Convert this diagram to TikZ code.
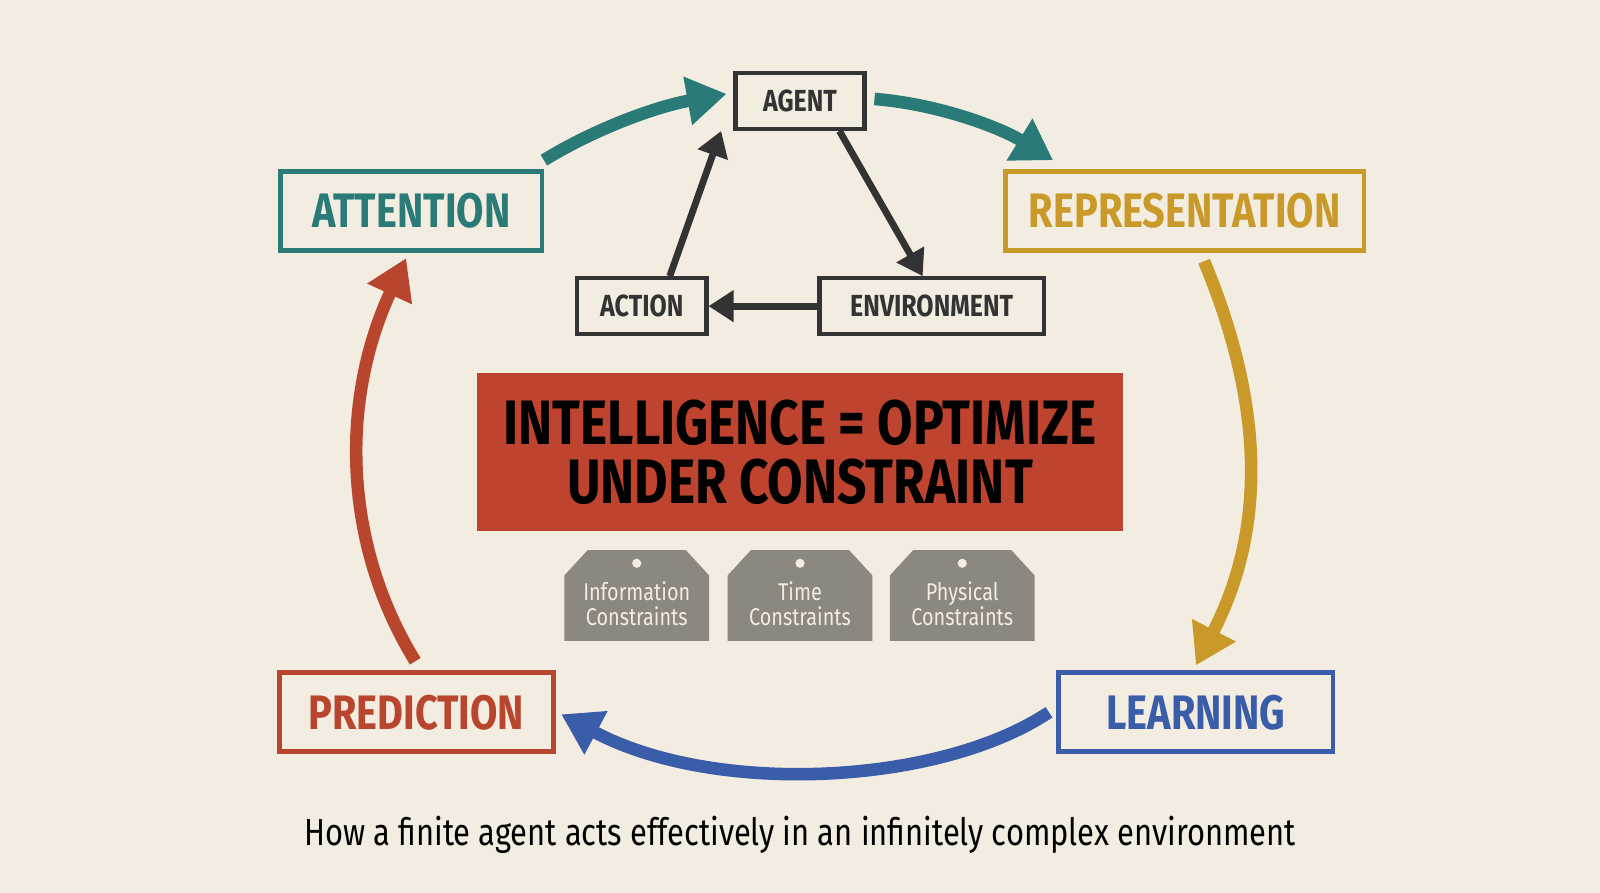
\documentclass[tikz,border=0pt]{standalone}
\usepackage{fontspec}
\setmainfont{Fira Sans}[FakeStretch=0.82]
\usetikzlibrary{arrows.meta}
\definecolor{bg}{HTML}{F3ECE0}
\definecolor{teal}{HTML}{2A7A78}
\definecolor{gold}{HTML}{C99A2A}
\definecolor{blu}{HTML}{3A5DAA}
\definecolor{rd}{HTML}{B8452E}
\definecolor{boxred}{HTML}{BE4430}
\definecolor{tag}{HTML}{8C8880}
\definecolor{dk}{HTML}{333333}
\begin{document}
\begin{tikzpicture}[x=0.02cm,y=-0.02cm,
 big/.style={draw=#1,line width=2.6pt,fill=bg,text=#1,font=\bfseries\fontsize{27}{30}\selectfont,minimum height=44pt,inner xsep=10pt},
 small/.style={draw=dk,line width=2.4pt,fill=bg,text=dk,font=\bfseries\fontsize{17}{20}\selectfont,minimum height=31pt},
 carr/.style={line width=7pt,draw=#1,-{Triangle[length=22pt,width=26pt,fill=#1]}},
 darr/.style={line width=3.8pt,draw=dk,-{Triangle[length=14pt,width=17pt]}},
 tg/.style={text=bg,font=\fontsize{13.5}{14}\selectfont,align=center}]
\fill[bg] (0,0) rectangle (1568,875);
\node[small,minimum width=72pt] (agent) at (784,99) {AGENT};
\node[small,minimum width=72pt] (action) at (629,300) {ACTION};
\node[small,minimum width=125pt] (env) at (913,300) {ENVIRONMENT};
\node[big=teal,minimum width=146pt] (att) at (403,207) {ATTENTION};
\node[big=gold,minimum width=200pt] (rep) at (1161,207) {REPRESENTATION};
\node[big=rd,minimum width=153pt] (pred) at (408,698) {PREDICTION};
\node[big=blu,minimum width=153pt] (learn) at (1172,698) {LEARNING};
\node[fill=boxred,minimum width=360pt,minimum height=88pt,align=center,font=\bfseries\fontsize{35}{33}\selectfont,text=black] (main) at (784,443) {INTELLIGENCE = OPTIMIZE\\UNDER CONSTRAINT};
\foreach \cx/\n/\t in {624/t1/Information\\Constraints,784/t2/Time\\Constraints,943/t3/Physical\\Constraints}{
 \fill[tag] (\cx-71,628) -- (\cx-71,564) -- (\cx-48,539) -- (\cx+48,539) -- (\cx+71,564) -- (\cx+71,628) -- cycle;
 \fill[bg] (\cx,552) circle (4.5);
 \node[tg] (\n) at (\cx,592) {\t};
}
\node[font=\fontsize{21}{24}\selectfont,text=black] (cap) at (784,818) {How a finite agent acts effectively in an infinitely complex environment};
\coordinate (a1) at (533,157); \coordinate (a2) at (712,92);
\draw[carr=teal] (a1) .. controls (580,128) and (640,105) .. (a2);
\coordinate (b1) at (857,97); \coordinate (b2) at (1032,157);
\draw[carr=teal] (b1) .. controls (920,102) and (980,125) .. (b2);
\coordinate (c1) at (1180,256); \coordinate (c2) at (1172,652);
\draw[carr=gold] (c1) .. controls (1240,400) and (1240,520) .. (c2);
\coordinate (d1) at (1028,698); \coordinate (d2) at (550,700);
\draw[carr=blu] (d1) .. controls (920,770) and (700,780) .. (d2);
\coordinate (e1) at (407,648); \coordinate (e2) at (398,253);
\draw[carr=rd] (e1) .. controls (340,540) and (330,400) .. (e2);
\draw[darr] (action.north east) ++(-38,0) -- ([xshift=-44pt]agent.south);
\draw[darr] ([xshift=22pt]agent.south) -- ([xshift=-5pt]env.north);
\draw[darr] (env.west) -- (action.east);
\end{tikzpicture}
\end{document}
